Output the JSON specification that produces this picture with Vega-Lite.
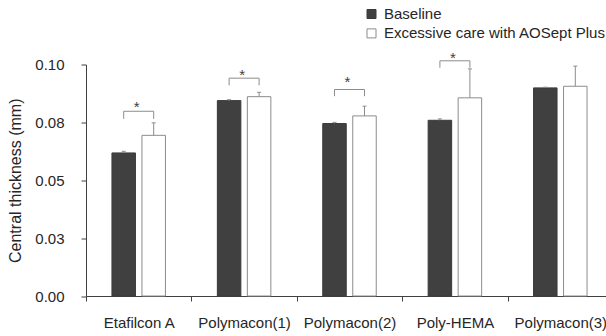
{
  "$schema": "https://vega.github.io/schema/vega-lite/v6.json",
  "width": 520,
  "height": 231.5,
  "autosize": {"type": "none"},
  "padding": {"left": 86, "top": 64.5, "right": 0, "bottom": 40},
  "config": {
    "view": {"stroke": null},
    "font": "Liberation Sans",
    "axis": {
      "labelFont": "Liberation Sans",
      "titleFont": "Liberation Sans",
      "labelFontSize": 15,
      "titleFontSize": 16,
      "titleFontWeight": "normal",
      "labelColor": "#262626",
      "titleColor": "#262626",
      "domainColor": "#404040",
      "tickColor": "#404040",
      "grid": false
    },
    "legend": {
      "labelFont": "Liberation Sans",
      "labelFontSize": 15,
      "labelColor": "#262626",
      "labelLimit": 0
    }
  },
  "datasets": {
    "bars": [
      {"material": "Etafilcon A", "group": "Baseline", "mean": 0.0618, "upper": 0.0625},
      {"material": "Etafilcon A", "group": "Excessive care with AOSept Plus", "mean": 0.0694, "upper": 0.0748},
      {"material": "Polymacon(1)", "group": "Baseline", "mean": 0.0844, "upper": 0.0848},
      {"material": "Polymacon(1)", "group": "Excessive care with AOSept Plus", "mean": 0.0861, "upper": 0.0880},
      {"material": "Polymacon(2)", "group": "Baseline", "mean": 0.0745, "upper": 0.0750},
      {"material": "Polymacon(2)", "group": "Excessive care with AOSept Plus", "mean": 0.0778, "upper": 0.0820},
      {"material": "Poly-HEMA", "group": "Baseline", "mean": 0.0759, "upper": 0.0765},
      {"material": "Poly-HEMA", "group": "Excessive care with AOSept Plus", "mean": 0.0856, "upper": 0.0981},
      {"material": "Polymacon(3)", "group": "Baseline", "mean": 0.0899, "upper": 0.0902},
      {"material": "Polymacon(3)", "group": "Excessive care with AOSept Plus", "mean": 0.0906, "upper": 0.0993}
    ],
    "brackets": [
      {"material": "Etafilcon A", "top": 0.0798, "star": 0.0830},
      {"material": "Polymacon(1)", "top": 0.0941, "star": 0.0967},
      {"material": "Polymacon(2)", "top": 0.0892, "star": 0.0938},
      {"material": "Poly-HEMA", "top": 0.1016, "star": 0.1043}
    ],
    "legs": [
      {"material": "Etafilcon A", "group": "Baseline", "top": 0.0798, "low": 0.0765},
      {"material": "Etafilcon A", "group": "Excessive care with AOSept Plus", "top": 0.0798, "low": 0.0765},
      {"material": "Polymacon(1)", "group": "Baseline", "top": 0.0941, "low": 0.0910},
      {"material": "Polymacon(1)", "group": "Excessive care with AOSept Plus", "top": 0.0941, "low": 0.0910},
      {"material": "Polymacon(2)", "group": "Baseline", "top": 0.0892, "low": 0.0863},
      {"material": "Polymacon(2)", "group": "Excessive care with AOSept Plus", "top": 0.0892, "low": 0.0863},
      {"material": "Poly-HEMA", "group": "Baseline", "top": 0.1016, "low": 0.0986},
      {"material": "Poly-HEMA", "group": "Excessive care with AOSept Plus", "top": 0.1016, "low": 0.0986}
    ]
  },
  "encoding": {
    "x": {
      "field": "material",
      "type": "nominal",
      "sort": ["Etafilcon A", "Polymacon(1)", "Polymacon(2)", "Poly-HEMA", "Polymacon(3)"],
      "scale": {"range": [0, 527], "paddingInner": 0, "paddingOuter": 0},
      "axis": {
        "title": null,
        "labelAngle": 0,
        "labelPadding": 14,
        "tickSize": 5,
        "tickBand": "extent",
        "labelOverlap": false
      }
    }
  },
  "layer": [
    {
      "data": {"name": "bars"},
      "mark": {"type": "bar", "strokeWidth": 1},
      "encoding": {
        "xOffset": {
          "field": "group",
          "type": "nominal",
          "scale": {"domain": ["Baseline", "Excessive care with AOSept Plus"], "paddingInner": 0.217, "paddingOuter": 0.865}
        },
        "y": {
          "field": "mean",
          "type": "quantitative",
          "title": "Central thickness (mm)",
          "scale": {"domain": [0, 0.1], "nice": false},
          "axis": {
            "values": [0, 0.025, 0.05, 0.075, 0.1],
            "labelExpr": "format(datum.value + 0.000001, '.2f')",
            "tickSize": 5,
            "labelPadding": 17,
            "titlePadding": 11
          }
        },
        "fill": {
          "field": "group",
          "type": "nominal",
          "scale": {"domain": ["Baseline", "Excessive care with AOSept Plus"], "range": ["#404040", "#ffffff"]},
          "legend": {
            "title": null,
            "orient": "none",
            "legendX": 278,
            "legendY": -58,
            "padding": 0,
            "symbolType": "square",
            "symbolSize": 81,
            "symbolStrokeWidth": 1,
            "labelOffset": 5,
            "rowPadding": 3.4,
            "labelLimit": 0
          }
        },
        "stroke": {
          "field": "group",
          "type": "nominal",
          "scale": {"domain": ["Baseline", "Excessive care with AOSept Plus"], "range": ["#3a3a3a", "#8c8c8c"]},
          "legend": {
            "title": null,
            "orient": "none",
            "legendX": 278,
            "legendY": -58,
            "padding": 0,
            "symbolType": "square",
            "symbolSize": 81,
            "symbolStrokeWidth": 1,
            "labelOffset": 5,
            "rowPadding": 3.4,
            "labelLimit": 0
          }
        }
      }
    },
    {
      "data": {"name": "bars"},
      "mark": {"type": "rule", "color": "#8c8c8c", "strokeWidth": 1},
      "encoding": {
        "xOffset": {"field": "group", "type": "nominal"},
        "y": {"field": "mean", "type": "quantitative", "title": "Central thickness (mm)", "scale": {"domain": [0, 0.1], "nice": false}},
        "y2": {"field": "upper"}
      }
    },
    {
      "data": {"name": "bars"},
      "mark": {"type": "tick", "orient": "horizontal", "size": 4, "thickness": 1, "color": "#8c8c8c", "opacity": 1},
      "encoding": {
        "xOffset": {"field": "group", "type": "nominal"},
        "y": {"field": "upper", "type": "quantitative", "title": "Central thickness (mm)", "scale": {"domain": [0, 0.1], "nice": false}}
      }
    },
    {
      "data": {"name": "legs"},
      "mark": {"type": "rule", "color": "#8c8c8c", "strokeWidth": 1},
      "encoding": {
        "xOffset": {"field": "group", "type": "nominal"},
        "y": {"field": "top", "type": "quantitative", "title": "Central thickness (mm)", "scale": {"domain": [0, 0.1], "nice": false}},
        "y2": {"field": "low"}
      }
    },
    {
      "data": {"name": "brackets"},
      "mark": {"type": "tick", "orient": "horizontal", "size": 30, "thickness": 1, "color": "#8c8c8c", "opacity": 1},
      "encoding": {
        "y": {"field": "top", "type": "quantitative", "title": "Central thickness (mm)", "scale": {"domain": [0, 0.1], "nice": false}}
      }
    },
    {
      "data": {"name": "brackets"},
      "mark": {"type": "text", "text": "*", "fontSize": 15, "color": "#404040", "baseline": "alphabetic", "dy": 8, "dx": -2},
      "encoding": {
        "y": {"field": "star", "type": "quantitative", "title": "Central thickness (mm)", "scale": {"domain": [0, 0.1], "nice": false}}
      }
    }
  ]
}
